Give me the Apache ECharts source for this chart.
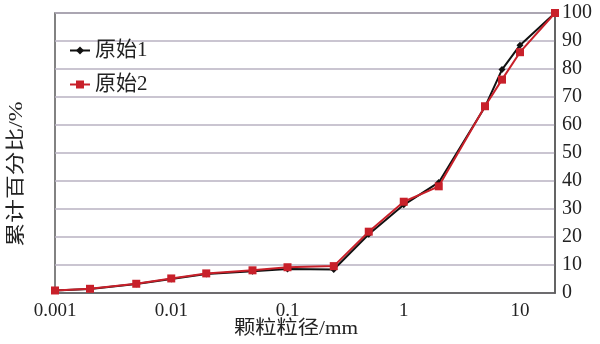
<!DOCTYPE html>
<html>
<head>
<meta charset="utf-8">
<script src="https://cdn.jsdelivr.net/npm/echarts@6/dist/echarts.min.js"></script>
<style>
html,body{margin:0;padding:0;background:#fff;}
#chart{width:600px;height:344px;}
</style>
</head>
<body>
<div id="chart"></div>
<script>
// particle sizes (mm)
const sizes = [0.001, 0.002, 0.005, 0.01, 0.02, 0.05, 0.1, 0.25, 0.5, 1, 2, 5, 7, 10, 20];
// cumulative percent
const original1 = [0.9, 1.4, 3.2, 5.0, 6.8, 7.8, 8.6, 8.4, 21.0, 31.5, 39.5, 66.5, 79.8, 88.5, 100];
const original2 = [0.9, 1.5, 3.3, 5.2, 7.0, 8.1, 9.2, 9.6, 21.9, 32.6, 38.1, 66.7, 76.2, 86.0, 100];
const seriesNames = ['原始1', '原始2'];
const xTickLabels = ['0.001', '0.01', '0.1', '1', '10'];
const xAxisTitle = '颗粒粒径/mm';
const yAxisTitle = '累计百分比/%';

const serif = '"Liberation Serif", "Noto Sans CJK SC", serif';
const chart = echarts.init(document.getElementById('chart'));
const pair = (arr) => sizes.map((s, i) => [s, arr[i]]);

chart.setOption({
  animation: false,
  backgroundColor: '#fff',
  grid: {
    left: 55, right: 45, top: 13, bottom: 51,
    show: true, borderColor: '#5a5a5a', borderWidth: 1.5
  },
  legend: {
    orient: 'vertical',
    left: 64, top: 35,
    itemGap: 13,
    itemWidth: 20, itemHeight: 10,
    textStyle: { fontFamily: serif, fontSize: 21, color: '#222' },
    data: seriesNames
  },
  xAxis: {
    type: 'log',
    logBase: 10,
    min: 0.001,
    max: 20,
    axisLine: { show: true, lineStyle: { color: '#5a5a5a', width: 1.5 } },
    axisTick: { show: false },
    splitLine: { show: false },
    minorTick: { show: false },
    axisLabel: {
      fontFamily: serif, fontSize: 19, color: '#222', margin: 9,
      showMaxLabel: false,
      formatter: function (v) {
        const l = Math.log10(v);
        const r = Math.round(l);
        if (Math.abs(l - r) > 1e-6) return '';
        const idx = r + 3;
        return xTickLabels[idx] !== undefined ? xTickLabels[idx] : '';
      }
    }
  },
  yAxis: {
    type: 'value',
    position: 'right',
    min: 0, max: 100, interval: 10,
    axisLine: { show: true, lineStyle: { color: '#5a5a5a', width: 1.5 } },
    axisTick: { show: false },
    splitLine: { show: true, lineStyle: { color: '#b9b2c2', width: 1.5 } },
    axisLabel: { fontFamily: serif, fontSize: 20, color: '#222', margin: 7 }
  },
  graphic: [
    {
      type: 'text',
      x: 296, y: 329,
      scaleX: 1.12,
      style: {
        text: xAxisTitle,
        fontFamily: serif, fontSize: 19, fill: '#222',
        align: 'center', verticalAlign: 'middle'
      }
    },
    {
      type: 'text',
      x: 17, y: 174,
      rotation: Math.PI / 2,
      scaleX: 1.25,
      style: {
        text: yAxisTitle,
        fontFamily: serif, fontSize: 19, fill: '#222',
        align: 'center', verticalAlign: 'middle'
      }
    }
  ],
  series: [
    {
      name: seriesNames[0],
      type: 'line',
      data: pair(original1),
      symbol: 'diamond',
      symbolSize: 7,
      lineStyle: { color: '#111', width: 2 },
      itemStyle: { color: '#111' },
      z: 2
    },
    {
      name: seriesNames[1],
      type: 'line',
      data: pair(original2),
      symbol: 'rect',
      symbolSize: 8,
      lineStyle: { color: '#c8202a', width: 2 },
      itemStyle: { color: '#c8202a' },
      z: 3
    }
  ]
});
</script>
</body>
</html>
